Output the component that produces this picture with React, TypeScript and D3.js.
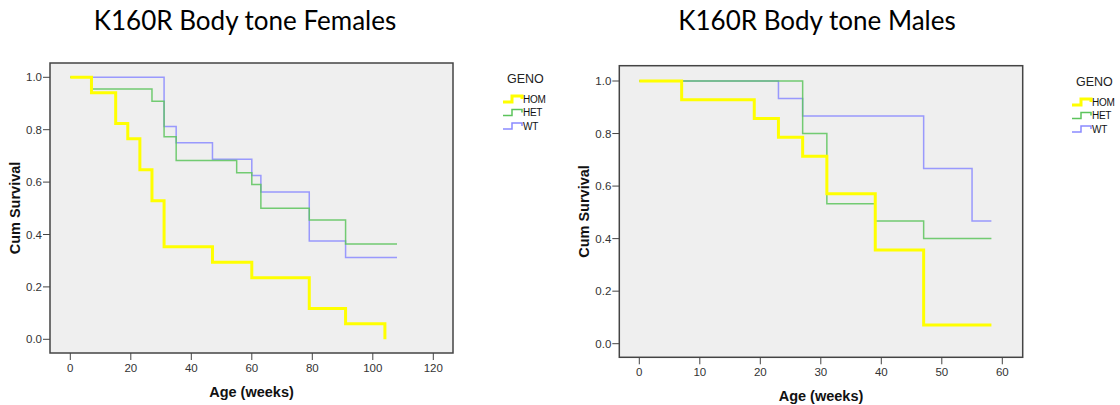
import React from "react";
import * as d3 from "d3";

// ---------- data ----------
const genoNames = ["HOM", "HET", "WT"];

// Females
const femHomTime = [0, 7, 15, 19, 23, 27, 31, 47, 60, 79, 91, 104];
const femHomSurv = [1, 0.941, 0.824, 0.765, 0.647, 0.529, 0.353, 0.294, 0.235, 0.118, 0.059, 0];
const femHetTime = [0, 7, 27, 31, 35, 55, 60, 63, 79, 91, 108];
const femHetSurv = [1, 0.955, 0.909, 0.773, 0.682, 0.636, 0.591, 0.5, 0.455, 0.364, 0.364];
const femWtTime = [0, 31, 35, 47, 60, 63, 79, 91, 108];
const femWtSurv = [1, 0.8125, 0.75, 0.6875, 0.625, 0.5625, 0.375, 0.3125, 0.3125];

// Males
const maleHomTime = [0, 7, 19, 23, 27, 31, 39, 47, 58.2];
const maleHomSurv = [1, 0.929, 0.857, 0.786, 0.714, 0.571, 0.357, 0.071, 0.071];
const maleHetTime = [0, 27, 31, 39, 47, 58.2];
const maleHetSurv = [1, 0.8, 0.533, 0.467, 0.4, 0.4];
const maleWtTime = [0, 23, 27, 47, 55, 58.2];
const maleWtSurv = [1, 0.933, 0.867, 0.667, 0.467, 0.467];

const femXTicks = [0, 20, 40, 60, 80, 100, 120];
const maleXTicks = [0, 10, 20, 30, 40, 50, 60];
const yTicks = [0, 0.2, 0.4, 0.6, 0.8, 1.0];

const colors = ["#ffff00", "#5cc45c", "#8a8aff"];
const widths = [3, 1.5, 1.5];

type Panel = {
  title: string;
  titleX: number;
  frame: { x0: number; y0: number; x1: number; y1: number };
  xRange: [number, number];
  xDomain: [number, number];
  yRange: [number, number];
  xTicks: number[];
  series: { t: number[]; s: number[] }[];
  legendX: number;
  legendY: number;
};

const panels: Panel[] = [
  {
    title: "K160R Body tone Females",
    titleX: 245,
    frame: { x0: 50, y0: 63, x1: 453, y1: 353 },
    xRange: [70.3, 433.3],
    xDomain: [0, 120],
    yRange: [339.3, 77.3],
    xTicks: femXTicks,
    series: [
      { t: femHomTime, s: femHomSurv },
      { t: femHetTime, s: femHetSurv },
      { t: femWtTime, s: femWtSurv },
    ],
    legendX: 503,
    legendY: 79,
  },
  {
    title: "K160R Body tone Males",
    titleX: 817,
    frame: { x0: 619.3, y0: 65.7, x1: 1022.7, y1: 357.3 },
    xRange: [639.3, 1002.3],
    xDomain: [0, 60],
    yRange: [343.7, 81],
    xTicks: maleXTicks,
    series: [
      { t: maleHomTime, s: maleHomSurv },
      { t: maleHetTime, s: maleHetSurv },
      { t: maleWtTime, s: maleWtSurv },
    ],
    legendX: 1072,
    legendY: 82,
  },
];

const axisFont = "Arial, 'Liberation Sans', sans-serif";

function PanelView({ p }: { p: Panel }) {
  const x = d3.scaleLinear().domain(p.xDomain).range(p.xRange);
  const y = d3.scaleLinear().domain([0, 1]).range(p.yRange);
  const line = d3
    .line<[number, number]>()
    .x((d) => x(d[0]))
    .y((d) => y(d[1]))
    .curve(d3.curveStepAfter);
  const f = p.frame;
  const cx = (f.x0 + f.x1) / 2;
  const cy = (f.y0 + f.y1) / 2;
  const order = [2, 1, 0];
  return (
    <g>
      <text
        x={p.titleX}
        y={29.5}
        textAnchor="middle"
        fontFamily="Lato, 'Open Sans', sans-serif"
        fontSize={26}
        fill="#000"
      >
        {p.title}
      </text>
      <rect x={f.x0} y={f.y0} width={f.x1 - f.x0} height={f.y1 - f.y0} fill="#efefef" stroke="#444" strokeWidth={1.5} />
      {yTicks.map((v) => (
        <g key={"y" + v}>
          <line x1={f.x0 - 7} x2={f.x0} y1={y(v)} y2={y(v)} stroke="#444" strokeWidth={1} />
          <text x={f.x0 - 8} y={y(v)} dy="0.35em" textAnchor="end" fontFamily={axisFont} fontSize={11.5} fill="#333">
            {v.toFixed(1)}
          </text>
        </g>
      ))}
      {p.xTicks.map((v) => (
        <g key={"x" + v}>
          <line x1={x(v)} x2={x(v)} y1={f.y1} y2={f.y1 + 7} stroke="#444" strokeWidth={1} />
          <text x={x(v)} y={f.y1 + 15} dy="0.35em" textAnchor="middle" fontFamily={axisFont} fontSize={11.5} fill="#333">
            {v}
          </text>
        </g>
      ))}
      <text x={cx} y={f.y1 + 44} textAnchor="middle" fontFamily={axisFont} fontWeight="bold" fontSize={14.5} fill="#111">
        Age (weeks)
      </text>
      <text
        transform={`translate(${f.x0 - 30},${cy}) rotate(-90)`}
        textAnchor="middle"
        fontFamily={axisFont}
        fontWeight="bold"
        fontSize={14.5}
        fill="#111"
      >
        Cum Survival
      </text>
      {order.map((i) => {
        const s = p.series[i];
        const pts: [number, number][] = s.t.map((t, k) => [t, s.s[k]]);
        return (
          <path
            key={i}
            d={line(pts) || ""}
            fill="none"
            stroke={colors[i]}
            strokeWidth={widths[i]}
            strokeOpacity={i === 0 ? 1 : 0.85}
          />
        );
      })}
      <text x={p.legendX + 4} y={p.legendY} dy="0.35em" fontFamily={axisFont} fontSize={12.5} fill="#222">
        GENO
      </text>
      {genoNames.map((n, i) => {
        const ly = p.legendY + 20 + i * 13.5;
        const lx = p.legendX;
        return (
          <g key={n}>
            <path
              d={`M${lx},${ly + 3} H${lx + 9} V${ly - 3} H${lx + 19} V${ly}`}
              fill="none"
              stroke={colors[i]}
              strokeWidth={widths[i]}
            />
            <text x={lx + 20} y={ly} dy="0.35em" fontFamily={axisFont} fontSize={10} fill="#111" letterSpacing={-0.3}>
              {n}
            </text>
          </g>
        );
      })}
    </g>
  );
}

export default function App() {
  return (
    <svg
      width={1120}
      height={405}
      style={{ position: "absolute", left: 0, top: 0, background: "#fff" }}
    >
      {panels.map((p) => (
        <PanelView key={p.title} p={p} />
      ))}
    </svg>
  );
}
